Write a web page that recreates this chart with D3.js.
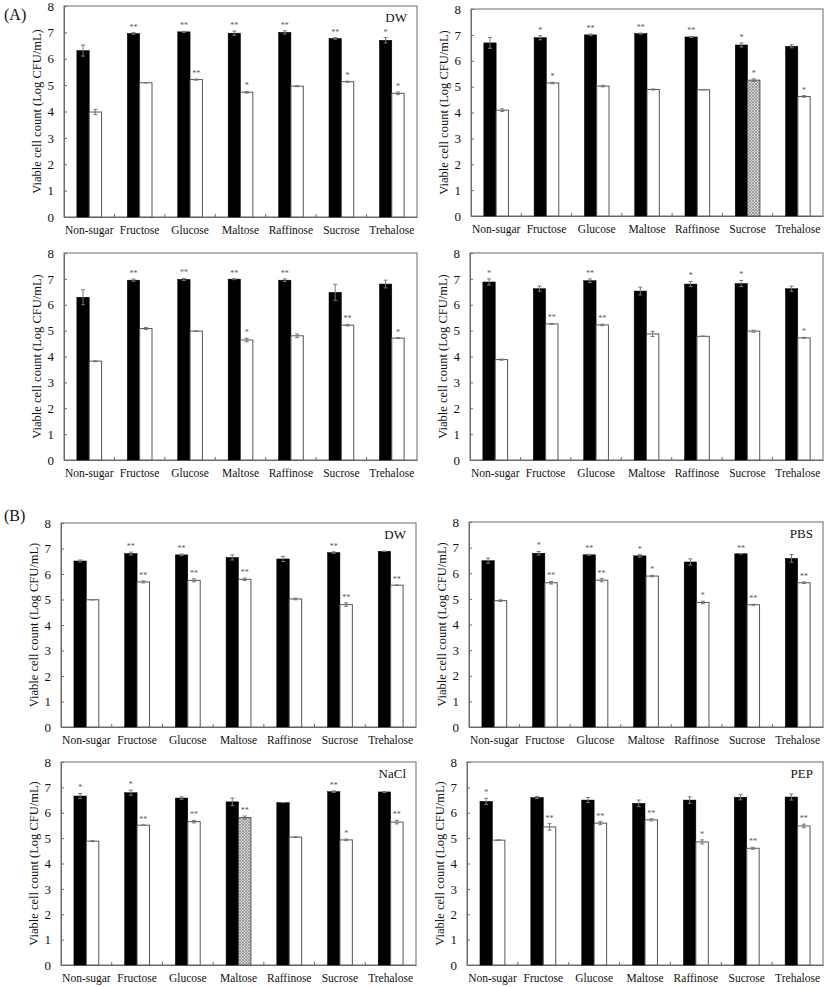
<!DOCTYPE html>
<html><head><meta charset="utf-8">
<script src="https://cdn.jsdelivr.net/npm/d3@7/dist/d3.min.js"></script>
<style>body{margin:0;background:#fff}svg{display:block}text{font-family:"Liberation Serif","Times New Roman",serif}</style>
</head><body>
<svg id="c" width="827" height="987"></svg>
<script>
const categories = ["Non-sugar","Fructose","Glucose","Maltose","Raffinose","Sucrose","Trehalose"];
const yTicks = [0,1,2,3,4,5,6,7,8];
const yTitle = "Viable cell count (Log CFU/mL)";
const panelNames = ["DW","","","","DW","PBS","NaCl","PEP"];
const sectionLabels = ["(A)","(B)"];

// black bars (means, errors)
const blackMean = [
  [6.31,6.96,7.02,6.97,7.00,6.77,6.70],
  [6.69,6.89,7.00,7.05,6.92,6.61,6.56],
  [6.29,6.95,6.98,6.99,6.95,6.48,6.80],
  [6.88,6.62,6.93,6.53,6.80,6.82,6.62],
  [6.51,6.80,6.75,6.65,6.59,6.84,6.89],
  [6.49,6.78,6.72,6.68,6.44,6.76,6.58],
  [6.66,6.79,6.58,6.43,6.40,6.83,6.82],
  [6.45,6.60,6.50,6.37,6.50,6.61,6.62]
];
const blackErr = [
  [0.21,0.03,0.02,0.08,0.06,0.03,0.10],
  [0.21,0.08,0.03,0.02,0.02,0.08,0.06],
  [0.29,0.04,0.04,0.02,0.05,0.31,0.15],
  [0.12,0.10,0.07,0.15,0.10,0.12,0.10],
  [0.04,0.06,0.03,0.10,0.10,0.03,0.01],
  [0.10,0.07,0.02,0.05,0.12,0.01,0.15],
  [0.10,0.10,0.05,0.15,0.00,0.03,0.02],
  [0.12,0.04,0.10,0.13,0.13,0.10,0.12]
];
const whiteMean = [
  [3.98,5.09,5.21,4.73,4.96,5.13,4.69],
  [4.09,5.14,5.02,4.89,4.88,5.25,4.62],
  [3.82,5.08,4.98,4.64,4.80,5.21,4.71],
  [3.88,5.26,5.22,4.87,4.78,4.98,4.72],
  [4.99,5.69,5.75,5.79,5.02,4.80,5.56],
  [4.93,5.63,5.73,5.89,4.86,4.77,5.63],
  [4.88,5.51,5.65,5.81,5.04,4.93,5.63],
  [4.92,5.44,5.59,5.72,4.85,4.60,5.48]
];
const whiteErr = [
  [0.10,0.01,0.02,0.03,0.02,0.02,0.05],
  [0.05,0.03,0.03,0.02,0.01,0.05,0.03],
  [0.02,0.04,0.01,0.07,0.07,0.03,0.02],
  [0.02,0.02,0.03,0.10,0.01,0.04,0.02],
  [0.01,0.04,0.06,0.05,0.03,0.07,0.01],
  [0.03,0.05,0.06,0.03,0.05,0.02,0.03],
  [0.02,0.01,0.05,0.06,0.01,0.03,0.07],
  [0.01,0.13,0.06,0.04,0.08,0.04,0.07]
];
const blackStars = [
  ["","**","**","**","**","**","*"],
  ["","*","**","**","**","*",""],
  ["","**","**","**","**","",""],
  ["*","","**","","*","*",""],
  ["","**","**","","","**",""],
  ["","*","**","*","","**",""],
  ["*","*","","","","**",""],
  ["*","","","","","",""]
];
const whiteStars = [
  ["","","**","*","","*","*"],
  ["","*","","","","*","*"],
  ["","","","*","","**","*"],
  ["","**","**","","","","*"],
  ["","**","**","**","","**","**"],
  ["","**","**","*","*","**","**"],
  ["","**","**","**","","*","**"],
  ["","**","**","**","*","**","**"]
];
// hatched (highlighted) white bars: [panel, category]
const hatched = [[1,"Sucrose"],[6,"Maltose"]];

// layout (frame left, right, y of 8, y of 0)
const frames = [
  {l:64,r:417,t:6,b:217},{l:471,r:823,t:9,b:216},
  {l:64,r:417,t:253,b:460},{l:470,r:823,t:253,b:460},
  {l:61,r:416,t:523,b:727},{l:469,r:823,t:522,b:727},
  {l:61,r:416,t:762,b:965},{l:467,r:823,t:762,b:965}
];
const sectionPos = [{x:4,y:20},{x:4,y:521}];

const svg = d3.select("#c");
const defs = svg.append("defs");
const pat = defs.append("pattern").attr("id","hatch").attr("patternUnits","userSpaceOnUse").attr("width",3).attr("height",3);
pat.append("rect").attr("width",3).attr("height",3).attr("fill","#d4d4d4");
pat.append("path").attr("d","M0,0L3,3M3,0L0,3").attr("stroke","#8a8a8a").attr("stroke-width",0.7);

sectionLabels.forEach((s,i)=>{
  svg.append("text").attr("x",sectionPos[i].x).attr("y",sectionPos[i].y).attr("font-size",16).attr("fill","#111").text(s);
});

const axisCol = "#6b6b6b";
frames.forEach((f,pi)=>{
  const g = svg.append("g");
  const x = d3.scaleBand().domain(categories).range([f.l,f.r]);
  const y = d3.scaleLinear().domain([0,8]).range([f.b,f.t]);
  const bw = x.bandwidth()*0.245;

  // frame
  g.append("rect").attr("x",f.l).attr("y",f.t).attr("width",f.r-f.l).attr("height",f.b-f.t)
    .attr("fill","none").attr("stroke",axisCol).attr("stroke-width",1);

  // y axis
  const ya = d3.axisLeft(y).tickValues(yTicks).tickSize(-3).tickPadding(10).tickFormat(d3.format("d"));
  const yg = g.append("g").attr("transform",`translate(${f.l},0)`).call(ya);
  yg.select(".domain").attr("stroke",axisCol);
  yg.selectAll(".tick line").attr("stroke",axisCol);
  yg.selectAll(".tick text").attr("font-size",13).attr("fill","#111").attr("font-family","Liberation Serif");

  // x axis: labels at band centres, ticks between bands
  const xa = d3.axisBottom(x).tickSize(0).tickPadding(9);
  const xg = g.append("g").attr("transform",`translate(0,${f.b})`).call(xa);
  xg.select(".domain").attr("stroke",axisCol);
  xg.selectAll(".tick text").attr("font-size",11.5).attr("fill","#111").attr("font-family","Liberation Serif");
  categories.slice(1).forEach(c=>{
    g.append("line").attr("x1",x(c)).attr("x2",x(c)).attr("y1",f.b).attr("y2",f.b-3).attr("stroke",axisCol);
  });

  // y title
  const cy = (f.t+f.b)/2;
  g.append("text").attr("transform",`translate(${f.l-26},${cy}) rotate(-90)`).attr("text-anchor","middle")
    .attr("dominant-baseline","middle").attr("font-size",12.5).attr("fill","#111").text(yTitle);

  // panel name
  if(panelNames[pi]){
    g.append("text").attr("x",f.r-10).attr("y",f.t+16).attr("text-anchor","end").attr("font-size",13).attr("fill","#111").text(panelNames[pi]);
  }

  categories.forEach((c,ci)=>{
    const cx = x(c)+x.bandwidth()/2;
    const series = [
      {m:blackMean[pi][ci],e:blackErr[pi][ci],s:blackStars[pi][ci],x0:cx-bw,fill:"#000"},
      {m:whiteMean[pi][ci],e:whiteErr[pi][ci],s:whiteStars[pi][ci],x0:cx,
        fill: hatched.some(h=>h[0]===pi&&h[1]===c) ? "url(#hatch)" : "#fff"}
    ];
    series.forEach((s,si)=>{
      g.append("rect").attr("x",s.x0).attr("y",y(s.m)).attr("width",bw).attr("height",y(0)-y(s.m))
        .attr("fill",s.fill).attr("stroke",si===0?"#000":"#555").attr("stroke-width",si===0?0.5:1);
      const ex = s.x0+bw/2;
      const eCol = "#777";
      g.append("line").attr("x1",ex).attr("x2",ex).attr("y1",y(s.m+s.e)).attr("y2",y(s.m-s.e)).attr("stroke",eCol).attr("stroke-width",1);
      [s.m+s.e,s.m-s.e].forEach(v=>{
        g.append("line").attr("x1",ex-2).attr("x2",ex+2).attr("y1",y(v)).attr("y2",y(v)).attr("stroke",eCol).attr("stroke-width",1);
      });
      if(s.s){
        g.append("text").attr("x",ex).attr("y",y(s.m+s.e)-3).attr("text-anchor","middle")
          .attr("font-size",8).attr("fill","#555").text(s.s);
      }
    });
  });
});
</script>
</body></html>
